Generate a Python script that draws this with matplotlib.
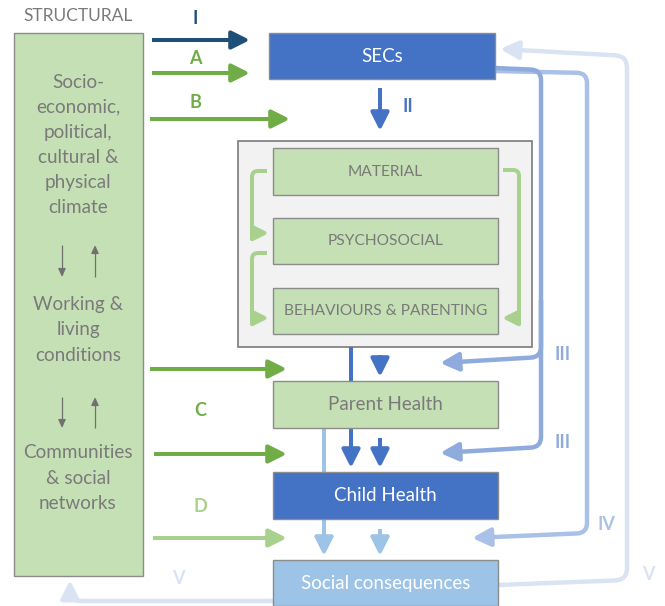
"""
Conceptual framework diagram: structural determinants -> SECs -> mechanisms
-> parent / child health -> social consequences.
Everything is drawn in a pixel-like coordinate system (0..665, 0..606, y down).
"""

import numpy as np
import matplotlib.pyplot as plt
from matplotlib.patches import Rectangle, FancyArrowPatch, ArrowStyle
from matplotlib.path import Path

plt.rcParams['font.family'] = ['Lato', 'DejaVu Sans']

# --- content -----------------------------------------------------------------
structural_title = 'STRUCTURAL'
structural_groups = [
    'Socio-\neconomic,\npolitical,\ncultural &\nphysical\nclimate',
    'Working &\nliving\nconditions',
    'Communities\n& social\nnetworks',
]
mechanisms = ['MATERIAL', 'PSYCHOSOCIAL', 'BEHAVIOURS & PARENTING']
outcomes = ['SECs', 'Parent Health', 'Child Health', 'Social consequences']
left_paths = ['I', 'A', 'B', 'C', 'D']
right_paths = ['II', 'III', 'III', 'IV', 'V', 'V']

# --- colours -----------------------------------------------------------------
GREEN_FILL = '#C5E0B4'
GREEN = '#70AD47'
LIGHT_GREEN = '#A9D18E'
BLUE = '#4472C4'
NAVY = '#1F4E79'
SKY = '#9DC3E6'
C3 = '#8FAADC'
C4 = '#A9C1E8'
C5 = '#DAE3F3'
GREY = '#7A7A7A'
EDGE = '#8C8C8C'

fig = plt.figure(figsize=(6.65, 6.06), dpi=100)
ax = fig.add_axes([0, 0, 1, 1])
ax.set_xlim(0, 665)
ax.set_ylim(606, 0)
ax.axis('off')


def box(x0, y0, x1, y1, fc, text='', tc=GREY, fs=12, ec=EDGE, lw=1.0, z=2):
    ax.add_patch(Rectangle((x0, y0), x1 - x0, y1 - y0, fc=fc, ec=ec, lw=lw, zorder=z))
    if text:
        ax.text((x0 + x1) / 2, (y0 + y1) / 2, text, color=tc, fontsize=fs,
                ha='center', va='center', zorder=z + 0.5)


def rounded(pts, r=9):
    pts = [np.asarray(p, float) for p in pts]
    verts, codes = [pts[0]], [Path.MOVETO]
    for p0, p1, p2 in zip(pts[:-2], pts[1:-1], pts[2:]):
        d1 = (p1 - p0) / np.linalg.norm(p1 - p0)
        d2 = (p2 - p1) / np.linalg.norm(p2 - p1)
        verts += [p1 - d1 * r, p1, p1 + d2 * r]
        codes += [Path.LINETO, Path.CURVE3, Path.CURVE3]
    verts.append(pts[-1])
    codes.append(Path.LINETO)
    return Path(verts, codes)


def arrow(pts, color, lw=2.9, head=True, hl=11, hw=0.5, z=3, r=9):
    style = ArrowStyle('-|>', head_length=1.0, head_width=hw) if head else '-'
    ax.add_patch(FancyArrowPatch(path=rounded(pts, r), arrowstyle=style,
                                 mutation_scale=hl, color=color, lw=lw,
                                 capstyle='butt', joinstyle='round', zorder=z))


def label(x, y, s, color, fs=13):
    ax.text(x, y, s, color=color, fontsize=fs, fontweight='bold',
            ha='center', va='center', zorder=6)


# --- structural column -------------------------------------------------------
ax.text(78, 16, structural_title, color=GREY, fontsize=12.5, ha='center', va='center')
box(14, 33, 143, 576, GREEN_FILL)
for txt, yc in zip(structural_groups, [145, 330, 478]):
    ax.text(78, yc, txt, color=GREY, fontsize=13.6, ha='center', va='center',
            linespacing=1.58, zorder=3)
for yt, yb in [(245, 277), (397, 428)]:
    arrow([(62, yt), (62, yb)], '#707070', lw=0.9, hl=5, hw=0.45)
    arrow([(95, yb), (95, yt)], '#707070', lw=0.9, hl=5, hw=0.45)

# --- left pathway arrows -----------------------------------------------------
arrow([(152, 40), (250, 40)], NAVY)
arrow([(152, 73), (250, 73)], GREEN)
arrow([(150, 119), (290, 119)], GREEN)
arrow([(150, 369), (287, 369)], GREEN)
arrow([(154, 454), (287, 454)], GREEN)
arrow([(153, 538), (287, 538)], LIGHT_GREEN)
for s, (x, y), c in zip(left_paths,
                        [(195, 18), (195, 59), (195, 103), (200, 411), (200, 507)],
                        [NAVY, GREEN, GREEN, GREEN, LIGHT_GREEN]):
    label(x, y, s, c)

# --- mechanisms --------------------------------------------------------------
box(238, 141, 532, 347, '#F2F2F2', ec=GREY, lw=1.2, z=1)
for txt, (y0, y1) in zip(mechanisms, [(148, 195), (218, 264), (288, 334)]):
    box(273, y0, 498, y1, GREEN_FILL, txt, fs=11.2)
arrow([(267, 171), (252, 171), (252, 233), (269, 233)], LIGHT_GREEN, hl=9, r=6)
arrow([(267, 253), (252, 253), (252, 318), (269, 318)], LIGHT_GREEN, hl=9, r=6)
arrow([(503, 170), (519, 170), (519, 318), (502, 318)], LIGHT_GREEN, hl=9, r=6)

# --- outcome boxes -----------------------------------------------------------
box(269, 33, 495, 79, BLUE, outcomes[0], tc='white', fs=13.5, z=4)
box(273, 381, 498, 428, GREEN_FILL, outcomes[1], fs=13.5, z=4)
box(273, 472, 498, 519, BLUE, outcomes[2], tc='white', fs=13.5, z=4)
box(273, 560, 498, 606, SKY, outcomes[3], tc='white', fs=13.5, z=4)

# --- vertical blue arrows ----------------------------------------------------
arrow([(380, 88), (380, 131)], BLUE)
arrow([(351, 347), (351, 381)], BLUE, head=False)
arrow([(380, 355), (380, 377)], BLUE)
arrow([(351, 428), (351, 468)], BLUE)
arrow([(380, 438), (380, 468)], BLUE)
arrow([(324, 428), (324, 556)], SKY, z=1)
arrow([(380, 529), (380, 556)], SKY)

# --- feedback loops on the right ----------------------------------------------
arrow([(495, 71), (587, 73), (587, 533), (472, 538)], C4, lw=3.2, z=1.5, r=10)
arrow([(495, 68), (541, 70), (541, 357), (440, 363)], C3, lw=3.2, z=1.6, r=10)
arrow([(541, 300), (541, 447), (440, 453)], C3, lw=3.2, z=1.6, r=10)
arrow([(498, 585), (627, 580), (627, 56), (500, 49)], C5, lw=3.2, z=1.4, r=12)
arrow([(273, 601), (70, 601), (70, 580)], C5, lw=3.2, z=1.4, r=10)

for s, (x, y), c in zip(right_paths,
                        [(408, 107), (563, 354), (563, 443), (606, 524), (648, 575), (178, 579)],
                        [BLUE, C3, C3, C4, C5, C5]):
    label(x, y, s, c)

fig.savefig('out.png', dpi=100)
